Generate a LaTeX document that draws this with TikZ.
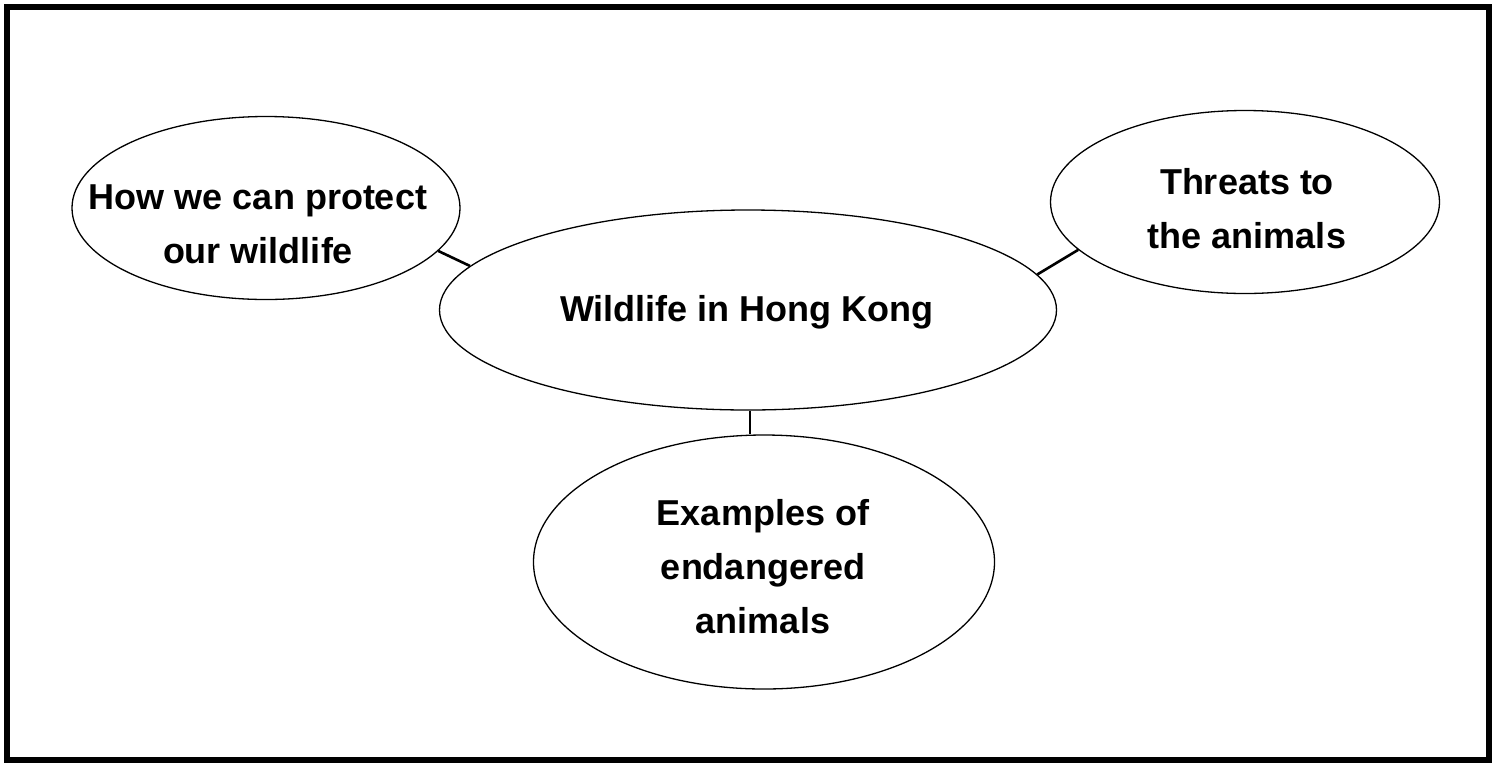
\documentclass[tikz,border=0pt]{standalone}
\usepackage{fontspec}
\setmainfont{Liberation Sans}
\usetikzlibrary{shapes.geometric}
\begin{document}
\begin{tikzpicture}[x=1pt,y=-1pt,
  bubble/.style={draw, ellipse, line width=1.3pt, inner sep=0pt},
  caption/.style={inner sep=0pt, align=center,
    font=\fontsize{36}{54}\selectfont\bfseries},
  link/.style={line width=2.6pt}]
\useasboundingbox (0,0) rectangle (1496,764);
\draw[line width=6pt] (7,7) rectangle (1489,760);
\node[bubble, minimum width=617, minimum height=200] (hub) at (748,310) {};
\node[bubble, minimum width=388, minimum height=183] (protect) at (266,208) {};
\node[bubble, minimum width=389, minimum height=183] (threat) at (1245,202) {};
\node[bubble, minimum width=461, minimum height=254] (examples) at (764,562) {};
\node[caption] (hubtext) at (747,312) {Wildlife in Hong Kong};
\node[caption] (protecttext) at (258,224.5) {How we can protect\\our wildlife};
\node[caption] (threattext) at (1247,209) {Threats to\\the animals};
\node[caption] (examplestext) at (763,567) {Examples of\\endangered\\animals};
\draw[link] (protect.-14.8) -- (hub.171);
\draw[link] (threat.-164.6) -- (hub.7.5);
\draw[link] (hub.south -| 750,0) -- (examples.north -| 750,0);
\end{tikzpicture}
\end{document}
